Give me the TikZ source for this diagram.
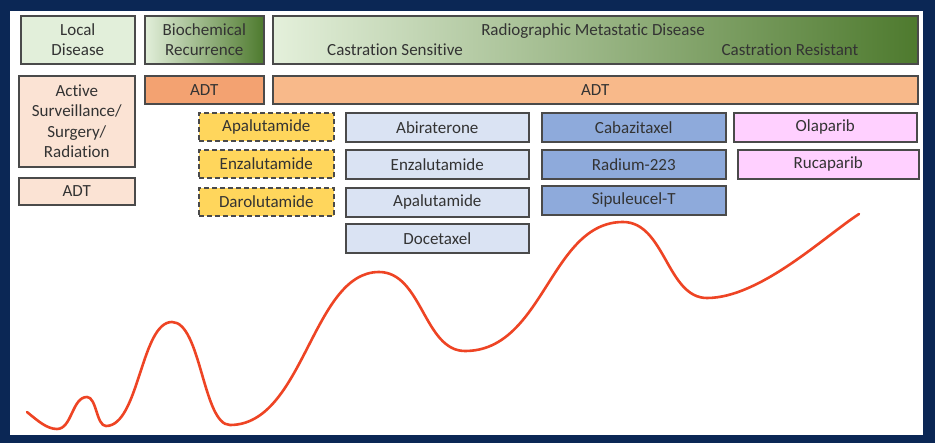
\documentclass[tikz,border=0pt]{standalone}
\usepackage{fontspec}
\setmainfont{Carlito}[RawFeature={-liga;-clig;-calt;-dlig}]
\usetikzlibrary{positioning}

\definecolor{navy}{HTML}{0B2755}
\definecolor{boxline}{HTML}{4A4A4A}
\definecolor{txtgray}{HTML}{333333}
\definecolor{lgreen}{HTML}{E2EFDA}
\definecolor{xgreen}{HTML}{E4F0DB}
\definecolor{mgreen}{HTML}{B0D298}
\definecolor{dgreen}{HTML}{4E7A2E}
\definecolor{peach}{HTML}{FBE3D4}
\definecolor{orangeA}{HTML}{F3A271}
\definecolor{orangeB}{HTML}{F8B98A}
\definecolor{gold}{HTML}{FFD65C}
\definecolor{lblue}{HTML}{DAE3F3}
\definecolor{mblue}{HTML}{8EAADB}
\definecolor{lpink}{HTML}{FFD0FF}
\definecolor{curvered}{HTML}{EE4424}

\begin{document}
\begin{tikzpicture}[
	x=1pt, y=-1pt,
	font=\fontsize{17}{20.5}\selectfont,
	block/.style={draw=boxline, line width=1.6pt, rectangle, anchor=north west, inner sep=0pt, align=center, text=txtgray},
	stage/.style={block, minimum height=48pt},
	adtbox/.style={block, minimum height=28pt},
	drugbox/.style={block, minimum width=183pt, minimum height=29pt},
	dashbox/.style={block, fill=gold, dash pattern=on 5pt off 3pt, minimum width=135pt, minimum height=28pt},
	txt/.style={text=txtgray, inner sep=0pt},
	curve/.style={draw=curvered, line width=2.6pt, line cap=round}
	]
	
	% Rahmen
	\fill[navy] (0,0) rectangle (935,443);
	\fill[white] (10,11) rectangle (923,435);
	
	% ======================
	% Stages (top row)
	% ======================
	\node[stage, fill=lgreen, minimum width=114pt] (LD) at (20,15) {Local\\Disease};
	\node[stage, left color=lgreen, right color=dgreen, minimum width=119pt] (BR) at (144,15) {Biochemical\\Recurrence};
	\node[stage, left color=xgreen, middle color=mgreen, right color=dgreen, minimum width=645pt] (RMD) at (272,15) {};
	
	\node[txt] (RMDt) at (593,31) {Radiographic Metastatic Disease};
	\node[txt] (CS) at (395,50) {Castration Sensitive};
	\node[txt] (CR) at (790,50) {Castration Resistant};
	
	% ======================
	% ADT row
	% ======================
	\node[block, fill=peach, minimum width=116pt, minimum height=91pt] (AS) at (18,75) {Active\\Surveillance/\\Surgery/\\Radiation};
	\node[adtbox, fill=orangeA, minimum width=119pt] (ADT2) at (144,75) {ADT};
	\node[adtbox, fill=orangeB, minimum width=645pt] (ADT3) at (272,75) {ADT};
	\node[adtbox, fill=peach, minimum width=116pt, minimum height=27pt] (ADT1) at (18,177) {ADT};
	
	% ======================
	% Drugs
	% ======================
	\node[dashbox] (APA1) at (198,112) {Apalutamide};
	\node[dashbox] (ENZ1) at (198,149) {Enzalutamide};
	\node[dashbox] (DARO) at (198,187) {Darolutamide};
	
	\node[drugbox, fill=lblue] (ABI) at (345,112) {Abiraterone};
	\node[drugbox, fill=lblue] (ENZ2) at (345,149) {Enzalutamide};
	\node[drugbox, fill=lblue] (APA2) at (345,187) {Apalutamide};
	\node[drugbox, fill=lblue] (DOC) at (345,223) {Docetaxel};
	
	\node[drugbox, fill=mblue, minimum width=184pt] (CABA) at (541,112) {Cabazitaxel};
	\node[drugbox, fill=mblue, minimum width=184pt] (RAD) at (541,149) {Radium-223};
	\node[drugbox, fill=mblue, minimum width=184pt] (SIPT) at (541,185) {Sipuleucel-T};
	
	\node[drugbox, fill=lpink] (OLA) at (733,112) {Olaparib};
	\node[drugbox, fill=lpink, minimum width=181pt] (RUCA) at (737,149) {Rucaparib};
	
	% Krankheitsverlauf
	\draw[curve] (27,412) .. controls (38,421) and (47,429) .. (57,429)
		.. controls (72,429) and (72,397) .. (87,397)
		.. controls (96.5,397) and (96.5,426) .. (106,426)
		.. controls (139,426) and (141,322) .. (172,322)
		.. controls (201,322) and (203,425) .. (230,425)
		.. controls (304,425) and (312,272) .. (379,272)
		.. controls (422,272) and (424,351) .. (465,351)
		.. controls (544,351) and (550,222) .. (623,222)
		.. controls (665,222) and (667,298) .. (707,298)
		.. controls (760,298) and (825,236) .. (859,214);
	
\end{tikzpicture}
\end{document}
